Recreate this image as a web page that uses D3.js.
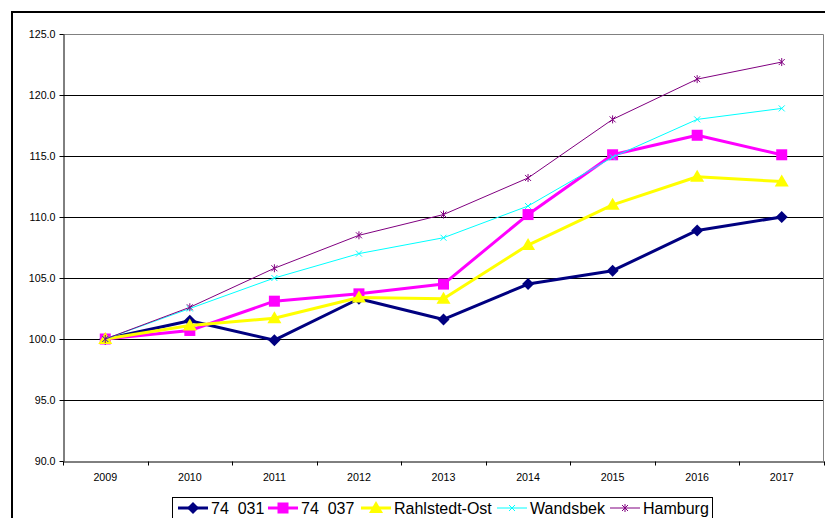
<!DOCTYPE html>
<html>
<head>
<meta charset="utf-8">
<script src="https://cdn.jsdelivr.net/npm/d3@7"></script>
<style>
  body { margin: 0; background: #fff; }
  svg { display: block; font-family: Arial, "Liberation Sans", sans-serif; }
</style>
</head>
<body>
<div id="chart"></div>
<script>
const years = ["2009", "2010", "2011", "2012", "2013", "2014", "2015", "2016", "2017"];
const yTicks = [90, 95, 100, 105, 110, 115, 120, 125];

const s74031 = [100.0, 101.5, 99.9, 103.3, 101.6, 104.5, 105.6, 108.9, 110.0];
const s74037 = [100.0, 100.7, 103.1, 103.7, 104.5, 110.2, 115.1, 116.7, 115.1];
const rahlstedt = [100.0, 101.1, 101.7, 103.4, 103.3, 107.7, 111.0, 113.3, 112.9];
const wandsbek = [100.0, 102.5, 105.0, 107.0, 108.3, 110.9, 114.9, 118.0, 118.9];
const hamburg = [100.0, 102.6, 105.8, 108.5, 110.2, 113.2, 118.0, 121.3, 122.7];

const seriesNames = ["74  031", "74  037", "Rahlstedt-Ost", "Wandsbek", "Hamburg"];

const series = [
  { name: seriesNames[0], values: s74031, color: "#000080", width: 3, marker: "diamond" },
  { name: seriesNames[1], values: s74037, color: "#FF00FF", width: 3, marker: "square" },
  { name: seriesNames[2], values: rahlstedt, color: "#FFFF00", width: 3, marker: "triangle" },
  { name: seriesNames[3], values: wandsbek, color: "#00FFFF", width: 1, marker: "x" },
  { name: seriesNames[4], values: hamburg, color: "#800080", width: 1, marker: "star" }
];

const W = 825, H = 518;
const plot = { left: 63, top: 34, right: 824, bottom: 461 };

const svg = d3.select("#chart").append("svg")
  .attr("width", W).attr("height", H);

// outer chart frame
svg.append("rect")
  .attr("x", 12).attr("y", 12)
  .attr("width", 830).attr("height", 530)
  .attr("fill", "#fff")
  .attr("stroke", "#000").attr("stroke-width", 2);

const x = d3.scaleBand().domain(years).range([plot.left, plot.right]);
const y = d3.scaleLinear().domain([90, 125]).range([plot.bottom, plot.top]);

// gridlines
svg.append("g")
  .selectAll("line")
  .data(yTicks.filter(d => d > 90 && d < 125))
  .join("line")
  .attr("x1", plot.left).attr("x2", plot.right)
  .attr("y1", d => Math.round(y(d)) + 0.5).attr("y2", d => Math.round(y(d)) + 0.5)
  .attr("stroke", "#000").attr("stroke-width", 1);

// plot area border (top, right)
svg.append("path")
  .attr("d", `M${plot.left},${plot.top + 0.5}H${plot.right - 0.5}V${plot.bottom}`)
  .attr("fill", "none").attr("stroke", "#808080").attr("stroke-width", 1);

// y axis
const yAxis = svg.append("g")
  .attr("transform", `translate(${plot.left + 0.5},0)`)
  .call(d3.axisLeft(y).tickValues(yTicks).tickFormat(d3.format(".1f")).tickSize(4).tickSizeOuter(0));
yAxis.select(".domain").attr("stroke", "#000");
yAxis.selectAll("text").attr("font-size", 10.7).attr("fill", "#000").attr("dx", -1);

// x axis
const xAxis = svg.append("g")
  .attr("transform", `translate(0,${plot.bottom + 0.5})`)
  .call(d3.axisBottom(x).tickSize(0).tickSizeOuter(0));
xAxis.select(".domain").attr("stroke", "#000");
xAxis.selectAll("text").attr("font-size", 10.7).attr("fill", "#000").attr("dy", "1.55em");
xAxis.selectAll(".sep")
  .data(years.concat(["end"]))
  .join("line")
  .attr("class", "sep")
  .attr("x1", (d, i) => Math.round(plot.left + i * x.bandwidth()) + 0.5)
  .attr("x2", (d, i) => Math.round(plot.left + i * x.bandwidth()) + 0.5)
  .attr("y1", 0).attr("y2", 4)
  .attr("stroke", "#000");

const cx = d => x(d) + x.bandwidth() / 2;

function drawMarker(g, type, color, px, py) {
  if (type === "diamond") {
    g.append("path").attr("d", `M${px},${py - 6}L${px + 6},${py}L${px},${py + 6}L${px - 6},${py}Z`)
      .attr("fill", color);
  } else if (type === "square") {
    g.append("rect").attr("x", px - 5.5).attr("y", py - 5.5).attr("width", 11).attr("height", 11)
      .attr("fill", color);
  } else if (type === "triangle") {
    g.append("path").attr("d", `M${px},${py - 7}L${px + 7},${py + 5}L${px - 7},${py + 5}Z`)
      .attr("fill", color);
  } else if (type === "x") {
    g.append("path").attr("d", `M${px - 3},${py - 3}L${px + 3},${py + 3}M${px - 3},${py + 3}L${px + 3},${py - 3}`)
      .attr("stroke", color).attr("stroke-width", 1);
  } else if (type === "star") {
    g.append("path").attr("d", `M${px - 3},${py - 3}L${px + 3},${py + 3}M${px - 3},${py + 3}L${px + 3},${py - 3}M${px},${py - 4}V${py + 4}`)
      .attr("stroke", color).attr("stroke-width", 1);
  }
}

const line = d3.line().x((d, i) => cx(years[i])).y(d => y(d));

series.forEach(s => {
  const g = svg.append("g");
  g.append("path")
    .datum(s.values)
    .attr("d", line)
    .attr("fill", "none")
    .attr("stroke", s.color)
    .attr("stroke-width", s.width)
    .attr("stroke-linejoin", "round");
  s.values.forEach((v, i) => drawMarker(g, s.marker, s.color, cx(years[i]), y(v)));
});

// legend
const legend = svg.append("g");
legend.append("rect")
  .attr("x", 172.5).attr("y", 497.5)
  .attr("width", 540).attr("height", 40)
  .attr("fill", "#fff").attr("stroke", "#000").attr("stroke-width", 1);

const legendX = [178, 268, 361, 497, 610];
series.forEach((s, i) => {
  const lx = legendX[i], ly = 508;
  const g = legend.append("g");
  g.append("line").attr("x1", lx).attr("x2", lx + 30).attr("y1", ly).attr("y2", ly)
    .attr("stroke", s.color).attr("stroke-width", s.width);
  drawMarker(g, s.marker, s.color, lx + 15, ly);
  g.append("text")
    .attr("x", lx + 33).attr("y", ly + 6)
    .attr("font-size", 16)
    .attr("fill", "#000")
    .attr("xml:space", "preserve")
    .style("white-space", "pre")
    .text(s.name);
});
</script>
</body>
</html>
